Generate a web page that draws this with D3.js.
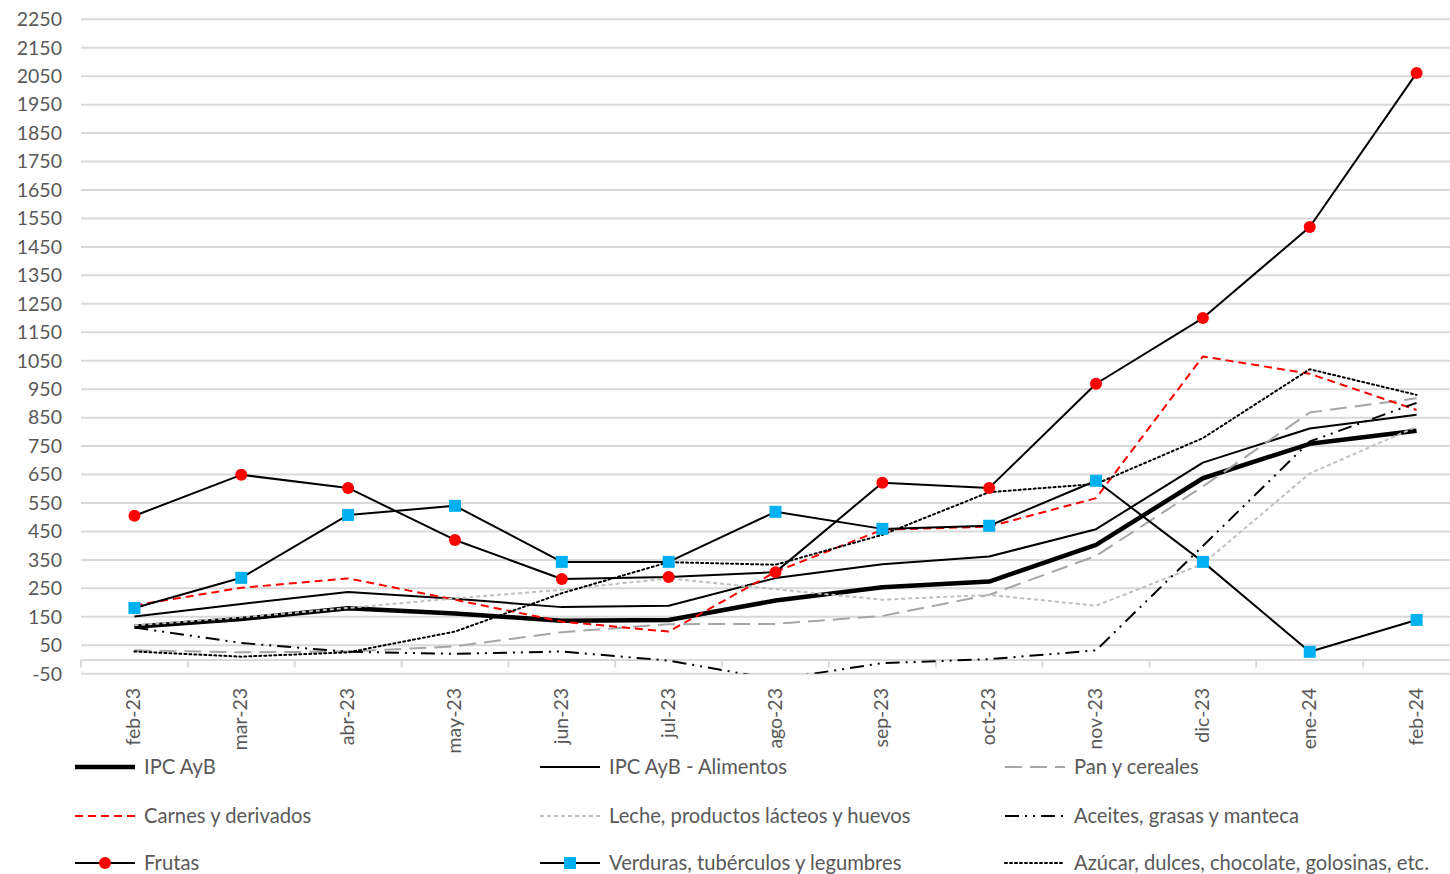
<!DOCTYPE html>
<html>
<head>
<meta charset="utf-8">
<script src="https://cdn.jsdelivr.net/npm/d3@7"></script>
<style>
  body { margin: 0; background: #fff; }
  text { font-family: Lato, "Open Sans", sans-serif; fill: #595959; }
</style>
</head>
<body>
<script>
// data
var months = ["feb-23","mar-23","abr-23","may-23","jun-23","jul-23","ago-23","sep-23","oct-23","nov-23","dic-23","ene-24","feb-24"];

var ipcAyB      = [115, 142, 180, 162, 136, 139, 207, 254, 274, 403, 637, 758, 804];
var alimentos   = [151, 195, 237, 213, 184, 189, 286, 335, 362, 458, 692, 812, 860];
var panCereales = [32, 25, 28, 46, 96, 124, 125, 153, 227, 364, 608, 868, 918];
var carnes      = [190, 252, 285, 210, 133, 98, 308, 456, 467, 567, 1065, 1004, 877];
var leche       = [120, 148, 181, 215, 245, 285, 247, 210, 227, 189, 336, 654, 818];
var aceites     = [112, 58, 27, 20, 28, -4, -70, -13, 1, 32, 399, 766, 902];
var frutas      = [505, 649, 603, 420, 283, 290, 307, 621, 603, 969, 1200, 1520, 2061];
var verduras    = [181, 287, 508, 540, 343, 343, 519, 459, 470, 628, 343, 27, 139];
var azucar      = [28, 10, 25, 98, 233, 342, 333, 438, 588, 617, 778, 1020, 930];

var yTicks = d3.range(-50, 2251, 100);

var series = [
  { name: "IPC AyB", values: ipcAyB, color: "#000", width: 4.5, dash: null },
  { name: "IPC AyB - Alimentos", values: alimentos, color: "#000", width: 2, dash: null },
  { name: "Pan y cereales", values: panCereales, color: "#a6a6a6", width: 2, dash: "17,8" },
  { name: "Carnes y derivados", values: carnes, color: "#ff0000", width: 2, dash: "8,5" },
  { name: "Leche, productos lácteos y huevos", values: leche, color: "#bfbfbf", width: 2, dash: "4,3" },
  { name: "Aceites, grasas y manteca", values: aceites, color: "#000", width: 2, dash: "14,6,2,6,2,6" },
  { name: "Frutas", values: frutas, color: "#000", width: 2, dash: null, marker: "circle" },
  { name: "Verduras, tubérculos y legumbres", values: verduras, color: "#000", width: 2, dash: null, marker: "square" },
  { name: "Azúcar, dulces, chocolate, golosinas, etc.", values: azucar, color: "#000", width: 2, dash: "2,3" }
];

var width = 1450, height = 874;

var svg = d3.select("body").append("svg")
  .attr("width", width)
  .attr("height", height);

var x = d3.scaleBand().domain(months).range([81, 1470]);
var y = d3.scaleLinear().domain([-50, 2250]).range([673.7, 19.3]);
function cx(i) { return x(months[i]) + x.bandwidth() / 2; }

// gridlines
svg.append("g").selectAll("line")
  .data(yTicks)
  .enter().append("line")
  .attr("x1", 81).attr("x2", 1470)
  .attr("y1", function(d) { return y(d); })
  .attr("y2", function(d) { return y(d); })
  .attr("stroke", "#d9d9d9")
  .attr("stroke-width", 2);

// y labels
svg.append("g").selectAll("text")
  .data(yTicks)
  .enter().append("text")
  .attr("x", 62)
  .attr("y", function(d) { return y(d); })
  .attr("dy", "0.35em")
  .attr("text-anchor", "end")
  .style("font-size", "19.5px")
  .text(function(d) { return d; });

// category axis at 0
var xAxis = d3.axisBottom(x).tickSize(0).tickFormat("");
var gx = svg.append("g").attr("transform", "translate(0," + y(0) + ")").call(xAxis);
gx.select(".domain").attr("stroke", "#d9d9d9").attr("stroke-width", 2);
gx.selectAll(".tickmark")
  .data(d3.range(months.length + 1))
  .enter().append("line")
  .attr("class", "tickmark")
  .attr("x1", function(i) { return 81 + i * x.step(); })
  .attr("x2", function(i) { return 81 + i * x.step(); })
  .attr("y1", 0).attr("y2", 8)
  .attr("stroke", "#d9d9d9")
  .attr("stroke-width", 2);

// x labels
svg.append("g").selectAll("text")
  .data(months)
  .enter().append("text")
  .attr("transform", function(d, i) { return "translate(" + (cx(i) + 6) + ",688) rotate(-90)"; })
  .attr("text-anchor", "end")
  .style("font-size", "19.5px")
  .text(function(d) { return d; });

// clip to plot
svg.append("clipPath").attr("id", "plot")
  .append("rect").attr("x", 81).attr("y", 0).attr("width", 1400).attr("height", y(-50));

var line = d3.line()
  .x(function(d, i) { return cx(i); })
  .y(function(d) { return y(d); });

var plot = svg.append("g").attr("clip-path", "url(#plot)");

series.forEach(function(s) {
  plot.append("path")
    .datum(s.values)
    .attr("d", line)
    .attr("fill", "none")
    .attr("stroke", s.color)
    .attr("stroke-width", s.width)
    .attr("stroke-dasharray", s.dash)
    .attr("stroke-linejoin", "round")
    .attr("stroke-linecap", s.dash === "2,3" ? "round" : "butt");
});

function drawMarker(g, type, px, py) {
  if (type === "circle") {
    g.append("circle").attr("cx", px).attr("cy", py).attr("r", 6).attr("fill", "#ff0000");
  } else if (type === "square") {
    g.append("rect").attr("x", px - 6).attr("y", py - 6).attr("width", 12).attr("height", 12).attr("fill", "#00b0f0");
  }
}

series.forEach(function(s) {
  if (!s.marker) return;
  s.values.forEach(function(v, i) { drawMarker(plot, s.marker, cx(i), y(v)); });
});

// legend
var legCols = [75, 540, 1005];
var legRows = [767, 816, 863];
var legend = svg.append("g");
series.forEach(function(s, k) {
  var lx = legCols[k % 3], ly = legRows[Math.floor(k / 3)];
  legend.append("line")
    .attr("x1", lx).attr("x2", lx + 60)
    .attr("y1", ly).attr("y2", ly)
    .attr("stroke", s.color)
    .attr("stroke-width", s.width)
    .attr("stroke-dasharray", s.dash)
    .attr("stroke-linecap", s.dash === "2,3" ? "round" : "butt");
  if (s.marker) drawMarker(legend, s.marker, lx + 30, ly);
  legend.append("text")
    .attr("x", lx + 69).attr("y", ly)
    .attr("dy", "0.35em")
    .style("font-size", "20.2px")
    .text(s.name);
});
</script>
</body>
</html>
